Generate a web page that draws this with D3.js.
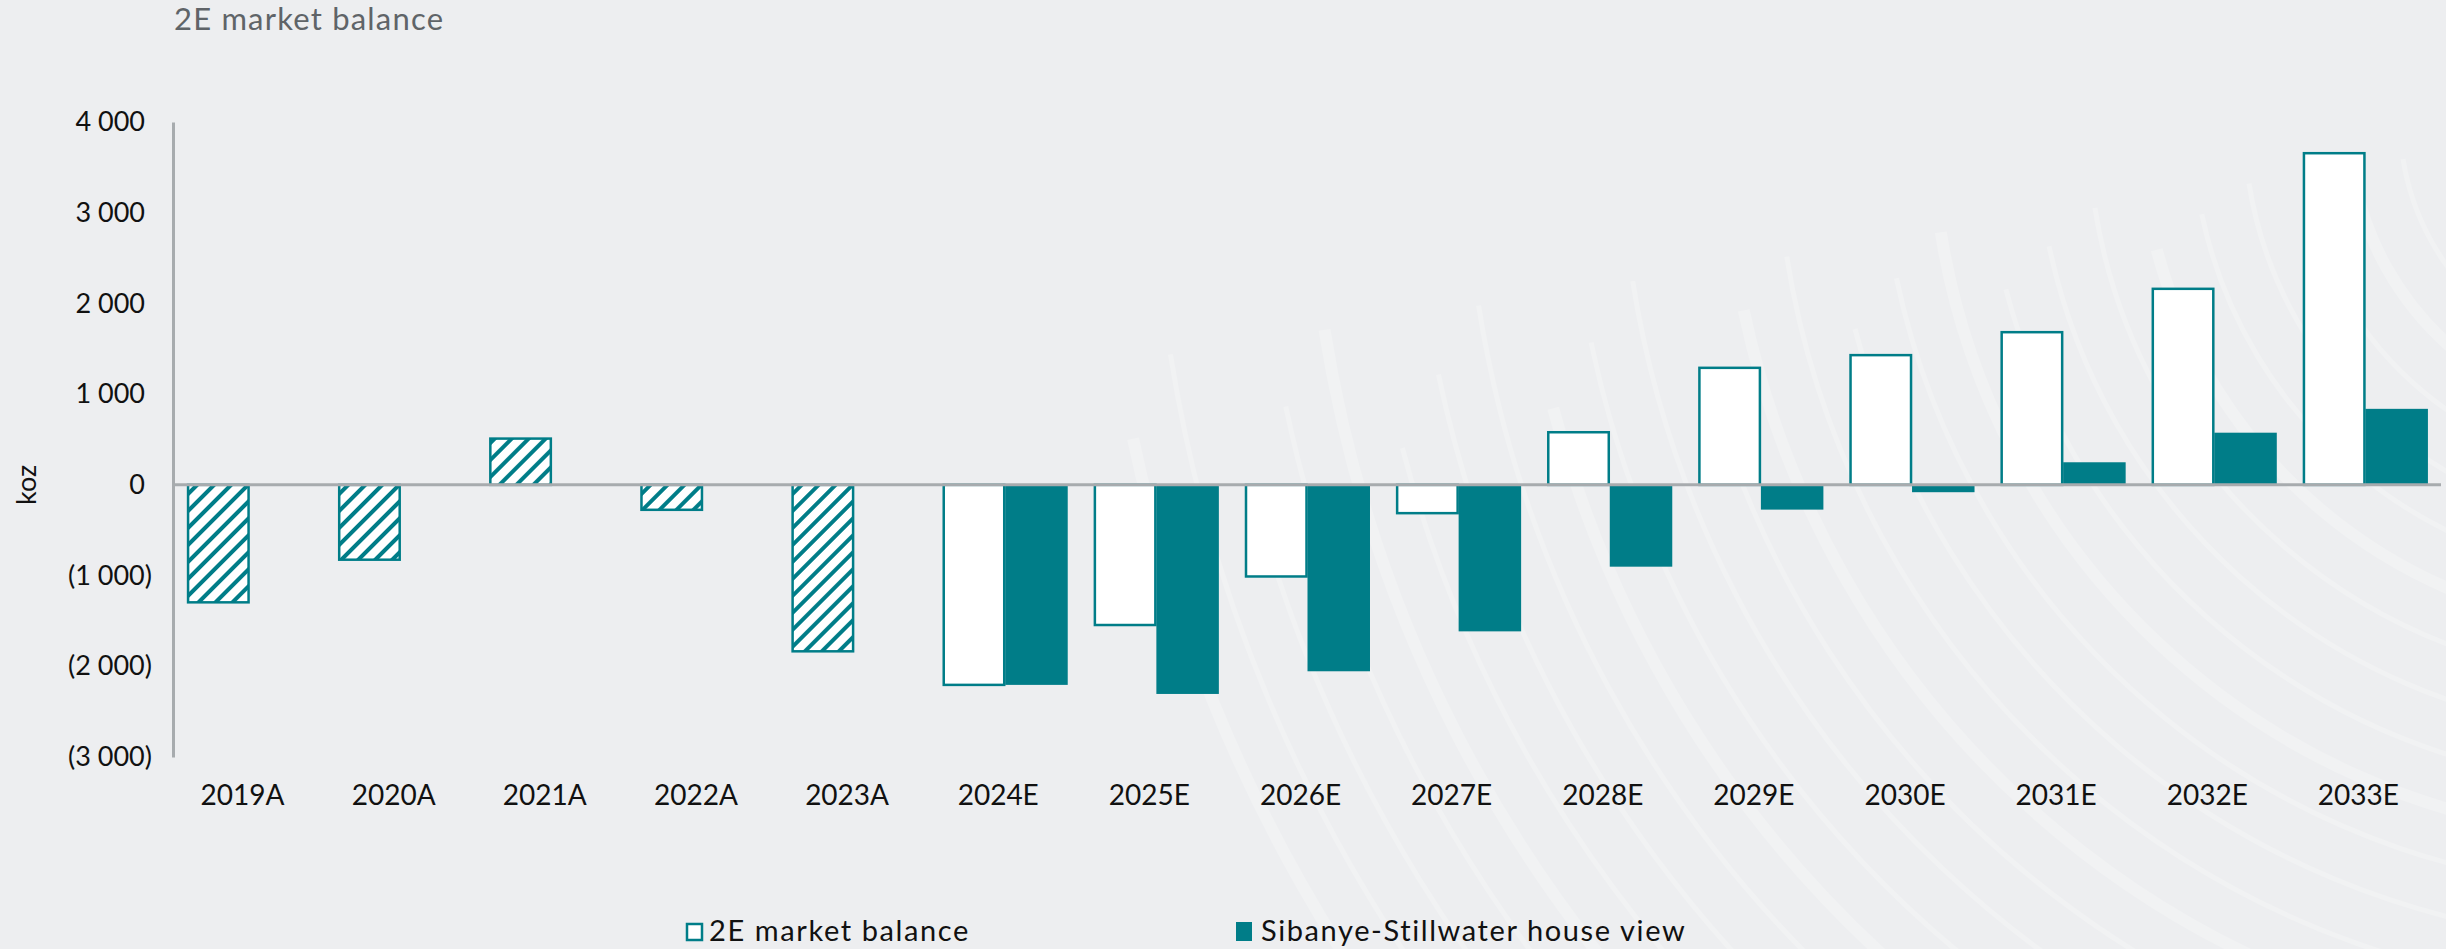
<!DOCTYPE html>
<html>
<head>
<meta charset="utf-8">
<script src="https://cdn.jsdelivr.net/npm/d3@7"></script>
<style>
	html, body { margin: 0; padding: 0; background: #edeef0; }
	svg { display: block; font-family: Lato, "Noto Sans", sans-serif; }
</style>
</head>
<body>
<svg id="chart" width="2446" height="949"></svg>
<script>
var categories = ['2019A','2020A','2021A','2022A','2023A','2024E','2025E','2026E','2027E','2028E','2029E','2030E','2031E','2032E','2033E'];
var marketBalance = [-1295, -825, 510, -275, -1835, -2205, -1545, -1010, -312, 580, 1290, 1430, 1683, 2161, 3656];
var houseView = [null, null, null, null, null, -2205, -2305, -2055, -1615, -902, -273, -81, 249, 575, 838];
var yTicks = [-3000, -2000, -1000, 0, 1000, 2000, 3000, 4000];
var seriesNames = ['2E market balance', 'Sibanye-Stillwater house view'];

var teal = '#007d88';
var svg = d3.select('#chart');

// faint fingerprint-like background decoration
var deco = svg.append('g')
	.attr('fill', 'none')
	.attr('stroke', '#f1f2f3')
	.attr('stroke-linecap', 'round')
	.attr('transform', 'translate(2650,120)');
d3.range(0, 26).forEach(function(i){
	var r = 250 + i * 52;
	deco.append('path')
		.attr('stroke-width', i % 4 == 1 ? 12 : 5)
		.attr('d', d3.arc()({innerRadius: r, outerRadius: r, startAngle: -Math.PI * 0.55 - (i % 3) * 0.05, endAngle: -Math.PI * 1.0 + (i % 2) * 0.1}));
});

var defs = svg.append('defs');
var pat = defs.append('pattern')
	.attr('id', 'hatch')
	.attr('patternUnits', 'userSpaceOnUse')
	.attr('width', 12)
	.attr('height', 12)
	.attr('patternTransform', 'rotate(45)');
pat.append('rect').attr('width', 12).attr('height', 12).attr('fill', '#fff');
pat.append('rect').attr('width', 4).attr('height', 12).attr('fill', teal);

var x = d3.scaleBand()
	.domain(categories)
	.range([174, 2441])
	.paddingInner(0.173)
	.paddingOuter(0.0865);
var x1 = d3.scaleBand()
	.domain([0, 1])
	.range([0, x.bandwidth()]);
var y = d3.scaleLinear()
	.domain([-3000, 4000])
	.range([757, 122]);

// title
svg.append('text')
	.attr('x', 174)
	.attr('y', 30)
	.attr('font-size', 31)
	.attr('letter-spacing', 1.2)
	.attr('fill', '#5f6468')
	.text('2E market balance');

// y axis
var fmt = function(v){
	var s = d3.format(',')(Math.abs(v)).replace(/,/g, ' ');
	return v < 0 ? '(' + s + ')' : s;
};
var yAxis = svg.append('g')
	.attr('transform', 'translate(173,0)')
	.call(d3.axisLeft(y).tickValues(yTicks).tickSize(0).tickPadding(28).tickFormat(fmt));
yAxis.select('.domain').attr('stroke', '#a7abae').attr('stroke-width', 3);
yAxis.selectAll('text')
	.attr('font-size', 27)
	.attr('fill', '#111')
	.attr('font-family', 'Lato, sans-serif')
	.attr('dx', function(d){ return d < 0 ? 7 : 0 });

svg.append('text')
	.attr('transform', 'translate(36,' + y(0) + ') rotate(-90)')
	.attr('text-anchor', 'middle')
	.attr('font-size', 27)
	.attr('fill', '#111')
	.text('koz');

// bars
var groups = svg.append('g').selectAll('.grp')
	.data(categories)
	.enter()
	.append('g')
	.attr('class', 'grp')
	.attr('transform', function(d){ return 'translate(' + x(d) + ',0)' });

groups.append('rect')
	.attr('class', 'market')
	.attr('x', x1(0) + 1)
	.attr('width', x1.bandwidth() - 2)
	.attr('y', function(d, i){ return y(Math.max(0, marketBalance[i])) })
	.attr('height', function(d, i){ return Math.abs(y(marketBalance[i]) - y(0)) })
	.attr('fill', function(d){ return d.slice(-1) == 'A' ? 'url(#hatch)' : '#fff' })
	.attr('stroke', teal)
	.attr('stroke-width', 2.5);

groups.filter(function(d, i){ return houseView[i] != null })
	.append('rect')
	.attr('class', 'house')
	.attr('x', x1(1))
	.attr('width', x1.bandwidth())
	.attr('y', function(d){ var v = houseView[categories.indexOf(d)]; return y(Math.max(0, v)) })
	.attr('height', function(d){ var v = houseView[categories.indexOf(d)]; return Math.abs(y(v) - y(0)) })
	.attr('fill', teal);

// zero line
svg.append('line')
	.attr('x1', 173)
	.attr('x2', 2441)
	.attr('y1', y(0))
	.attr('y2', y(0))
	.attr('stroke', '#a7abae')
	.attr('stroke-width', 3);

// x labels
svg.append('g').selectAll('.xl')
	.data(categories)
	.enter()
	.append('text')
	.attr('x', function(d){ return x(d) + x.bandwidth() / 2 - 7 })
	.attr('y', 805)
	.attr('text-anchor', 'middle')
	.attr('font-size', 28)
	.attr('fill', '#111')
	.text(function(d){ return d });

// legend
var legend = svg.append('g')
	.attr('font-size', 29)
	.attr('letter-spacing', 1.6)
	.attr('fill', '#111');
legend.append('rect')
	.attr('x', 687).attr('y', 924).attr('width', 15).attr('height', 16)
	.attr('fill', '#fff').attr('stroke', teal).attr('stroke-width', 2.5);
legend.append('text')
	.attr('x', 709).attr('y', 941)
	.text(seriesNames[0]);
legend.append('rect')
	.attr('x', 1236).attr('y', 922).attr('width', 16).attr('height', 19)
	.attr('fill', teal);
legend.append('text')
	.attr('x', 1261).attr('y', 941)
	.text(seriesNames[1]);
</script>
</body>
</html>
